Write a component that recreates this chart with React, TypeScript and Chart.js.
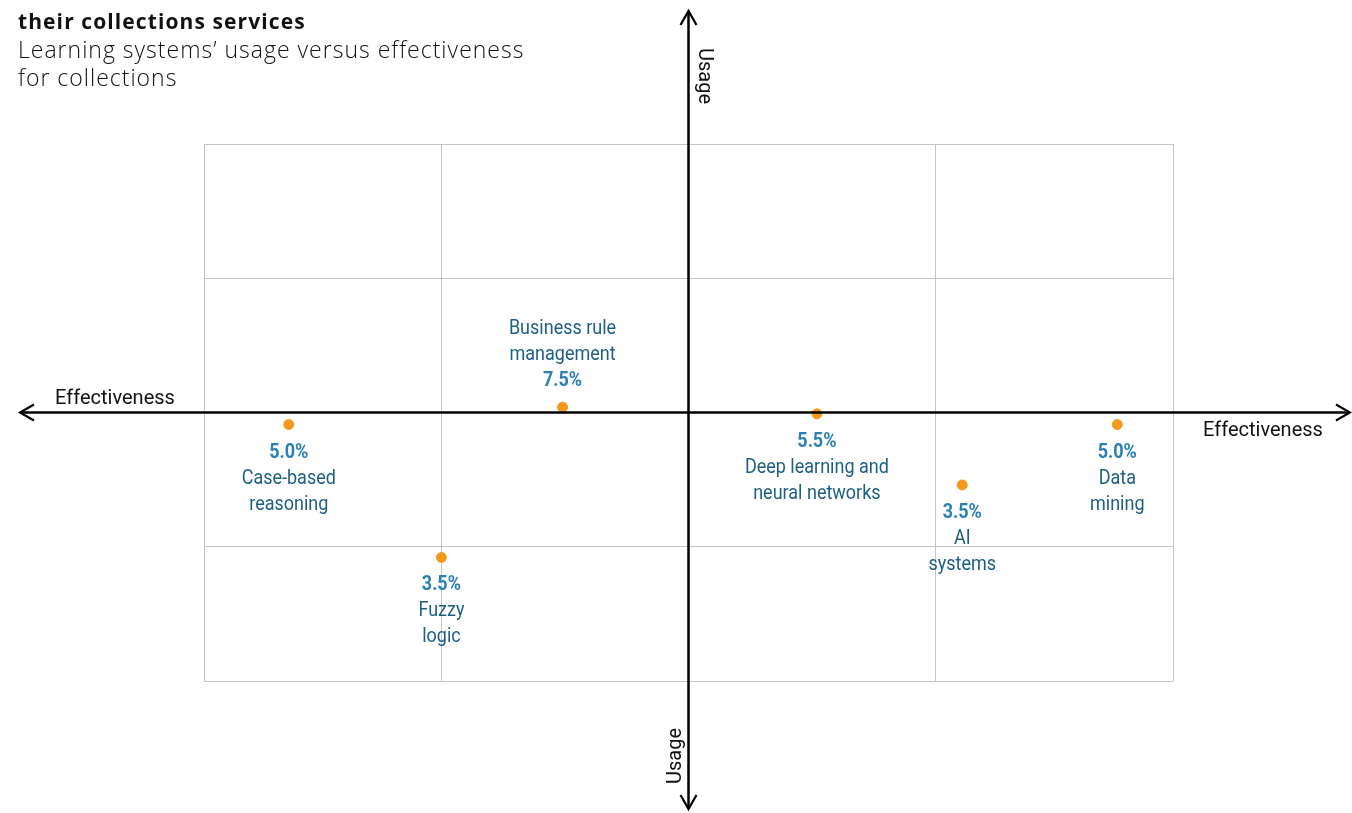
import React, { useEffect, useRef } from "react";
import { Chart, registerables } from "chart.js";

Chart.register(...registerables);

const categories: string[][] = [
  ["Case-based", "reasoning"],
  ["Business rule", "management"],
  ["Fuzzy", "logic"],
  ["Deep learning and", "neural networks"],
  ["AI", "systems"],
  ["Data", "mining"],
];
const usageShare: number[] = [5.0, 7.5, 3.5, 5.5, 3.5, 5.0];
const effectivenessPos: number[] = [-1.65, -0.52, -1.02, 0.53, 1.13, 1.77];
const usagePos: number[] = [-0.09, 0.04, -1.08, -0.01, -0.54, -0.09];
const labelAbove: boolean[] = [false, true, false, false, false, false];
const xGridTicks: number[] = [-2, -1.02, 0, 1.02, 2];
const yGridTicks: number[] = [-2, -1, 0, 1, 2];

const PCT_COLOR = "#2a7fb3";
const NAME_COLOR = "#1c5f82";

const quadrantPlugin = {
  id: "quadrant",
  afterDatasetsDraw(chart: any) {
    const ctx: CanvasRenderingContext2D = chart.ctx;
    const xs = chart.scales.x;
    const ys = chart.scales.y;
    const x0 = xs.getPixelForValue(0);
    const y0 = ys.getPixelForValue(0);
    const W = chart.width;
    const H = chart.height;
    ctx.save();
    ctx.strokeStyle = "#000";
    ctx.lineWidth = 2.5;
    ctx.beginPath();
    ctx.moveTo(21, y0);
    ctx.lineTo(W - 2, y0);
    ctx.moveTo(x0, 12);
    ctx.lineTo(x0, H - 4);
    ctx.stroke();
    const a = 14, b = 8;
    ctx.lineWidth = 2.2;
    ctx.beginPath();
    ctx.moveTo(20 + a, y0 - b);
    ctx.lineTo(20, y0);
    ctx.lineTo(20 + a, y0 + b);
    ctx.moveTo(W - 2 - a, y0 - b);
    ctx.lineTo(W - 2, y0);
    ctx.lineTo(W - 2 - a, y0 + b);
    ctx.moveTo(x0 - b, 11 + a);
    ctx.lineTo(x0, 11);
    ctx.lineTo(x0 + b, 11 + a);
    ctx.moveTo(x0 - b, H - 4 - a);
    ctx.lineTo(x0, H - 4);
    ctx.lineTo(x0 + b, H - 4 - a);
    ctx.stroke();

    ctx.fillStyle = "#111";
    ctx.font = "20px Roboto";
    ctx.textAlign = "center";
    ctx.textBaseline = "middle";
    ctx.fillText("Effectiveness", 115, y0 - 14);
    ctx.fillText("Effectiveness", 1263, y0 + 18);
    ctx.save();
    ctx.translate(x0 + 15, 76);
    ctx.rotate(Math.PI / 2);
    ctx.fillText("Usage", 0, 0);
    ctx.restore();
    ctx.save();
    ctx.translate(x0 - 13, 756);
    ctx.rotate(-Math.PI / 2);
    ctx.fillText("Usage", 0, 0);
    ctx.restore();

    const meta = chart.getDatasetMeta(0);
    meta.data.forEach((pt: any, i: number) => {
      const px = pt.x;
      const py = pt.y;
      const pct = usageShare[i].toFixed(1) + "%";
      const lines = categories[i];
      const drawCond = (text: string, y: number, bold: boolean, color: string) => {
        ctx.save();
        ctx.translate(px, y);
        ctx.scale(0.9, 1);
        ctx.font = (bold ? "bold " : "") + "20px Roboto";
        ctx.fillStyle = color;
        ctx.textAlign = "center";
        ctx.textBaseline = "middle";
        ctx.fillText(text, 0, 0);
        ctx.restore();
      };
      if (labelAbove[i]) {
        drawCond(pct, py - 26, true, PCT_COLOR);
        drawCond(lines[1], py - 52, false, NAME_COLOR);
        drawCond(lines[0], py - 78, false, NAME_COLOR);
      } else {
        drawCond(pct, py + 28, true, PCT_COLOR);
        drawCond(lines[0], py + 54, false, NAME_COLOR);
        drawCond(lines[1], py + 80, false, NAME_COLOR);
      }
    });
    ctx.restore();
  },
};

export default function App() {
  const ref = useRef<HTMLCanvasElement | null>(null);
  useEffect(() => {
    if (!ref.current) return;
    const chart = new Chart(ref.current, {
      type: "scatter",
      data: {
        datasets: [
          {
            data: effectivenessPos.map((x, i) => ({ x, y: usagePos[i] })),
            backgroundColor: "#f39a1e",
            borderColor: "#f39a1e",
            pointRadius: 5,
            pointHoverRadius: 5,
          },
        ],
      },
      options: {
        animation: false,
        responsive: false,
        events: [],
        layout: { padding: { left: 204, right: 179, top: 144, bottom: 132 } },
        plugins: { legend: { display: false }, tooltip: { enabled: false } },
        scales: {
          x: {
            type: "linear",
            min: xGridTicks[0],
            max: xGridTicks[xGridTicks.length - 1],
            afterBuildTicks: (s: any) => {
              s.ticks = xGridTicks.map((v) => ({ value: v }));
            },
            ticks: { display: false },
            border: { display: false },
            grid: { color: "#c4c4c4", lineWidth: 1, drawTicks: false },
          },
          y: {
            type: "linear",
            min: yGridTicks[0],
            max: yGridTicks[yGridTicks.length - 1],
            afterBuildTicks: (s: any) => {
              s.ticks = yGridTicks.map((v) => ({ value: v }));
            },
            ticks: { display: false },
            border: { display: false },
            grid: { color: "#c4c4c4", lineWidth: 1, drawTicks: false },
          },
        },
      },
      plugins: [quadrantPlugin],
    });
    return () => chart.destroy();
  }, []);

  return (
    <div
      style={{
        position: "fixed",
        left: 0,
        top: 0,
        width: 1352,
        height: 813,
        overflow: "hidden",
        background: "#fff",
      }}
    >
      <canvas
        ref={ref}
        width={1352}
        height={813}
        style={{ position: "absolute", left: 0, top: 0, width: 1352, height: 813 }}
      />
      <div
        style={{
          position: "absolute",
          left: 18,
          top: -21,
          fontFamily: "'Open Sans', sans-serif",
          color: "#111",
          pointerEvents: "none",
          whiteSpace: "nowrap",
        }}
      >
        <div
          style={{
            fontWeight: 700,
            fontSize: 21,
            lineHeight: "28px",
            letterSpacing: 1.1,
            position: "relative",
            top: -6,
          }}
        >
          How lenders use learning systems to enhance
        </div>
        <div style={{ fontWeight: 700, fontSize: 21, lineHeight: "28px", letterSpacing: 1.1 }}>
          their collections services
        </div>
        <div
          style={{
            fontWeight: 300,
            fontSize: 23,
            lineHeight: "28px",
            letterSpacing: 1,
          }}
        >
          Learning systems’ usage versus effectiveness
          <br />
          for collections
        </div>
      </div>
    </div>
  );
}
